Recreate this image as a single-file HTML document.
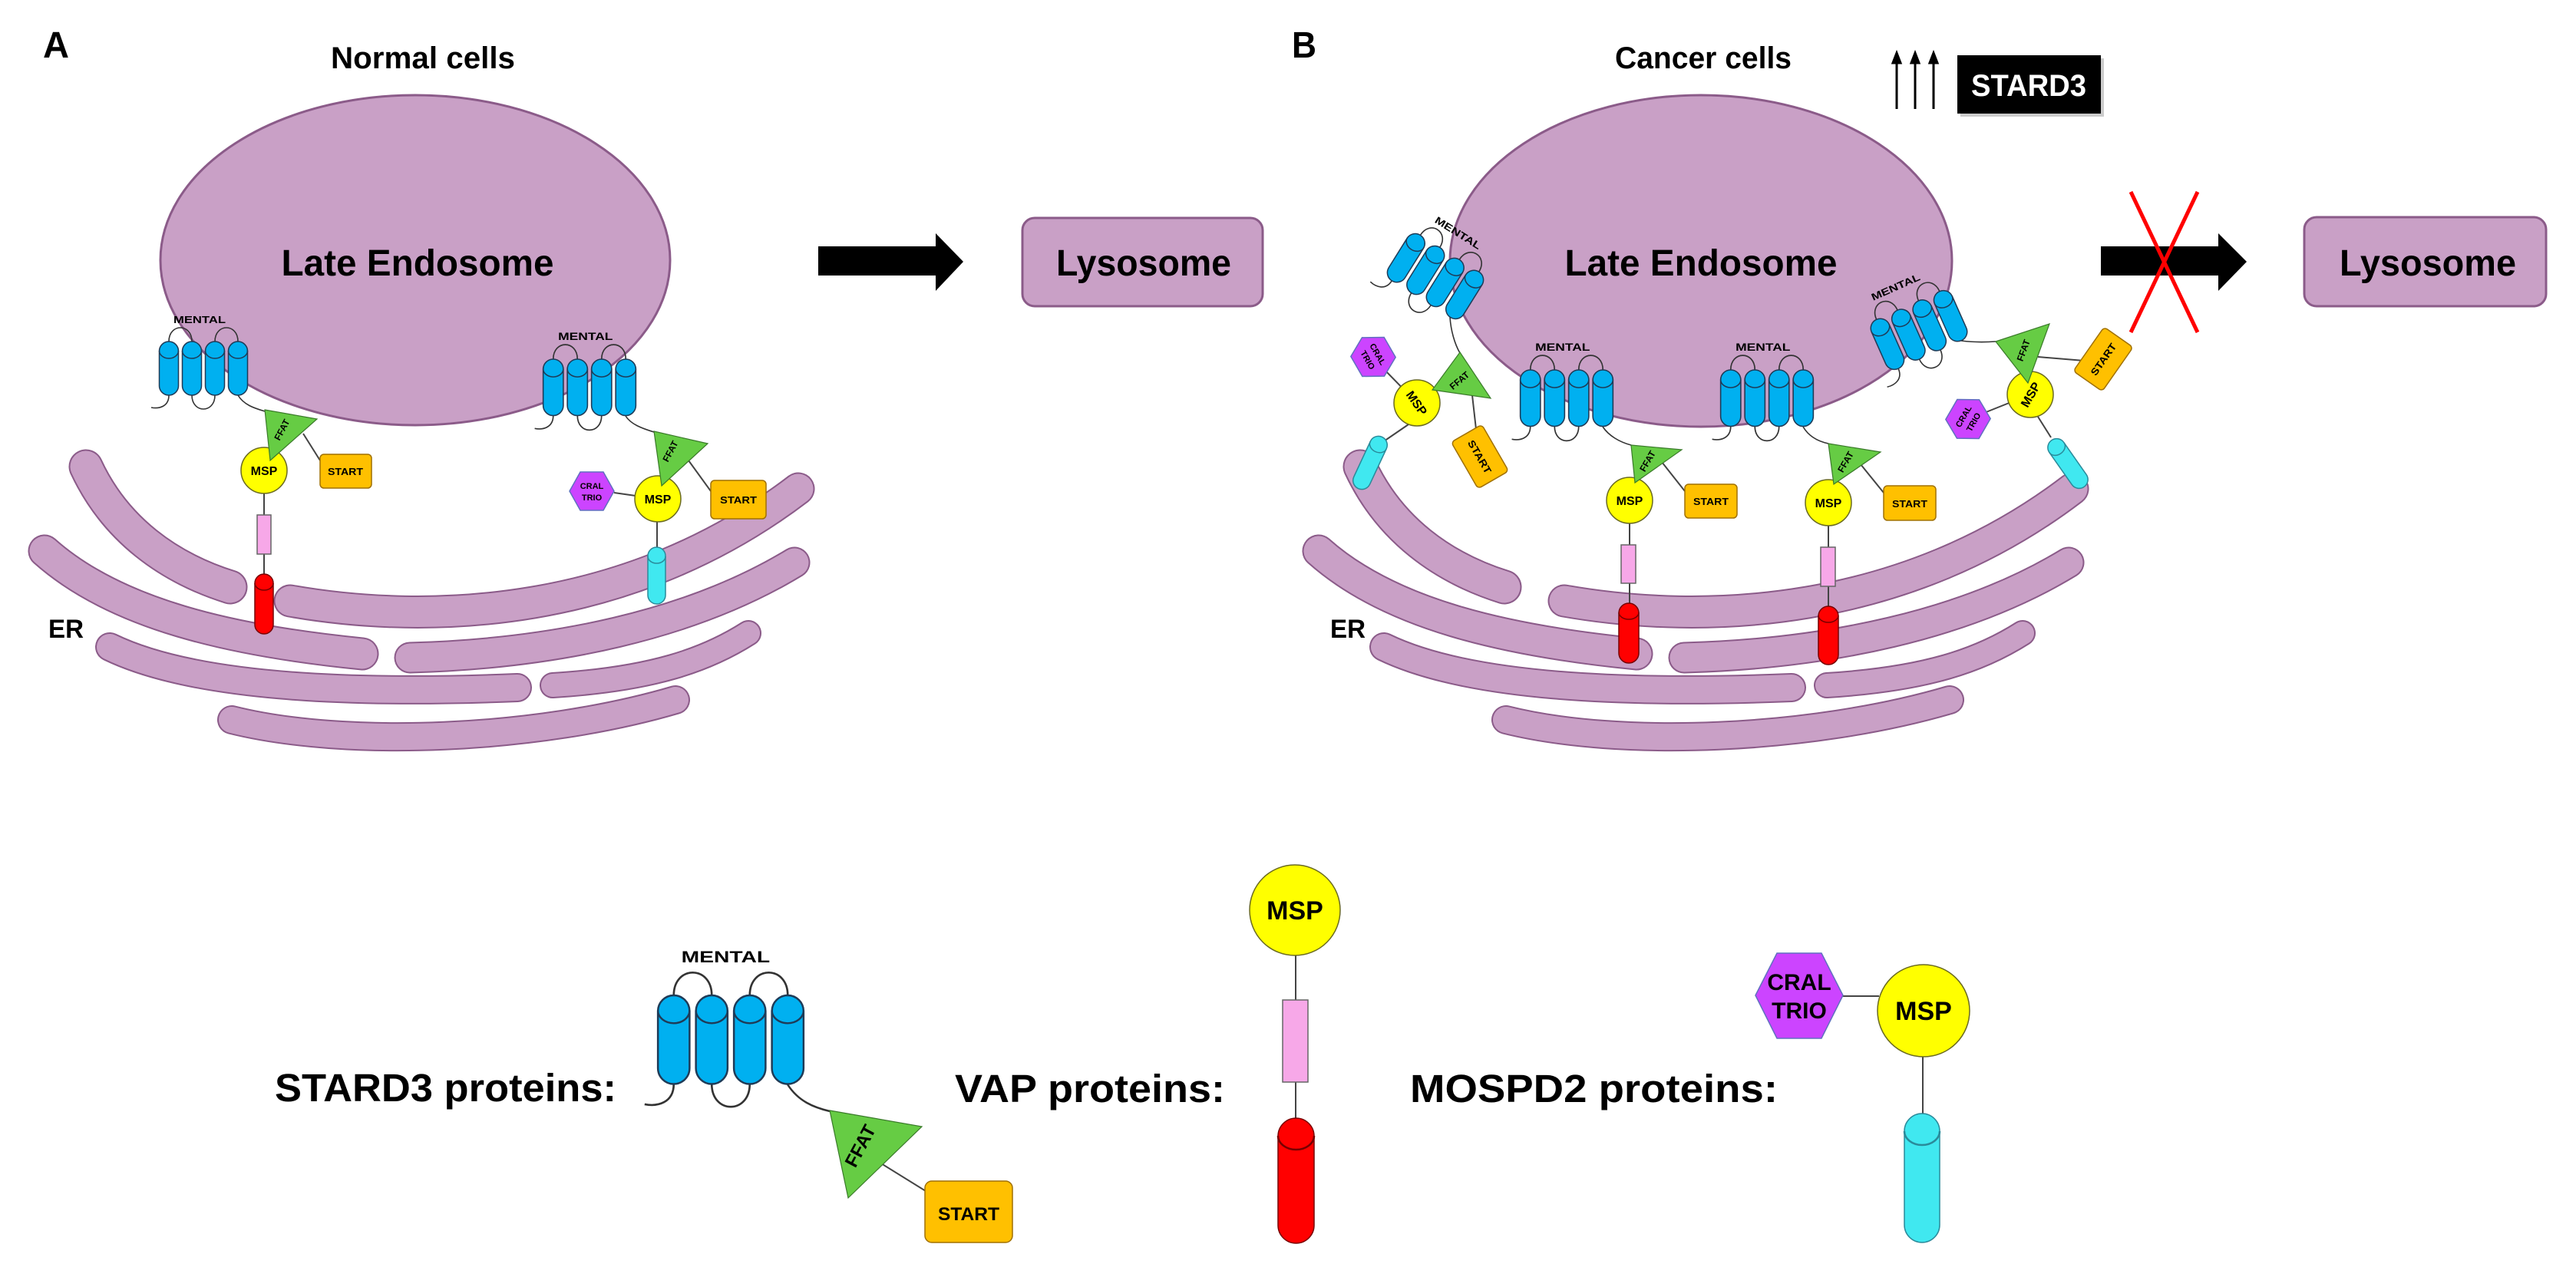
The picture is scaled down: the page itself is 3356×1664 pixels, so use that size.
<!DOCTYPE html>
<html><head><meta charset="utf-8"><style>
html,body{margin:0;padding:0;background:#fff}
svg{display:block}
text{font-family:"Liberation Sans",sans-serif;font-weight:bold;fill:#000}
.h{fill:#00b0f0;stroke:#1f3b57;stroke-width:1.5}
.hc{fill:none;stroke:#1f3b57;stroke-width:1.5}
.lp{fill:none;stroke:#333;stroke-width:1.6}
.ln{stroke:#444;stroke-width:2;fill:none}
.ml{font-size:13px;text-anchor:middle}
.ff{fill:#66cc44;stroke:#3a7a2a;stroke-width:1.2}
.msp{fill:#ffff00;stroke:#6a6a20;stroke-width:1.5}
.st{fill:#ffc000;stroke:#a07000;stroke-width:1.5}
.cr{fill:#cc44ff;stroke:#6070c0;stroke-width:1.5}
.pk{fill:#f7a8e8;stroke:#666;stroke-width:1.5}
.rd{fill:#ff0000;stroke:#700;stroke-width:1.5}
.cy{fill:#40e8f0;stroke:#2a8a9a;stroke-width:1.5}
.c{text-anchor:middle}
</style></head><body>
<svg width="3356" height="1664" viewBox="0 0 3356 1664" xmlns="http://www.w3.org/2000/svg">
<!-- ER A -->
<g fill="none" stroke-linecap="round">
 <g stroke="#8b5b89">
  <path d="M112,608 C150,690 220,740 300,765" stroke-width="45"/>
  <path d="M378,783 C560,815 820,805 1040,637" stroke-width="43"/>
  <path d="M58,718 C150,800 300,835 472,852" stroke-width="43"/>
  <path d="M534,857 C720,852 900,815 1035,733" stroke-width="41"/>
  <path d="M143,843 C250,895 450,905 674,896" stroke-width="38"/>
  <path d="M720,893 C850,885 920,860 975,825" stroke-width="34"/>
  <path d="M302,938 C450,975 700,965 880,912" stroke-width="38"/>
 </g>
 <g stroke="#c9a0c6">
  <path d="M112,608 C150,690 220,740 300,765" stroke-width="41"/>
  <path d="M378,783 C560,815 820,805 1040,637" stroke-width="39"/>
  <path d="M58,718 C150,800 300,835 472,852" stroke-width="39"/>
  <path d="M534,857 C720,852 900,815 1035,733" stroke-width="37"/>
  <path d="M143,843 C250,895 450,905 674,896" stroke-width="34"/>
  <path d="M720,893 C850,885 920,860 975,825" stroke-width="30"/>
  <path d="M302,938 C450,975 700,965 880,912" stroke-width="34"/>
 </g>
</g>
<!-- ER B -->
<g transform="translate(1660,0)" fill="none" stroke-linecap="round">
 <g stroke="#8b5b89">
  <path d="M112,608 C150,690 220,740 300,765" stroke-width="45"/>
  <path d="M378,783 C560,815 820,805 1040,637" stroke-width="43"/>
  <path d="M58,718 C150,800 300,835 472,852" stroke-width="43"/>
  <path d="M534,857 C720,852 900,815 1035,733" stroke-width="41"/>
  <path d="M143,843 C250,895 450,905 674,896" stroke-width="38"/>
  <path d="M720,893 C850,885 920,860 975,825" stroke-width="34"/>
  <path d="M302,938 C450,975 700,965 880,912" stroke-width="38"/>
 </g>
 <g stroke="#c9a0c6">
  <path d="M112,608 C150,690 220,740 300,765" stroke-width="41"/>
  <path d="M378,783 C560,815 820,805 1040,637" stroke-width="39"/>
  <path d="M58,718 C150,800 300,835 472,852" stroke-width="39"/>
  <path d="M534,857 C720,852 900,815 1035,733" stroke-width="37"/>
  <path d="M143,843 C250,895 450,905 674,896" stroke-width="34"/>
  <path d="M720,893 C850,885 920,860 975,825" stroke-width="30"/>
  <path d="M302,938 C450,975 700,965 880,912" stroke-width="34"/>
 </g>
</g>

<!-- Endosomes -->
<ellipse cx="541" cy="339" rx="332" ry="215" fill="#c9a0c6" stroke="#8b5b89" stroke-width="3"/>
<ellipse cx="2216" cy="340" rx="327" ry="216" fill="#c9a0c6" stroke="#8b5b89" stroke-width="3"/>
<text x="544" y="359" font-size="48" class="c" textLength="355" lengthAdjust="spacingAndGlyphs">Late Endosome</text>
<text x="2216" y="359" font-size="48" class="c" textLength="355" lengthAdjust="spacingAndGlyphs">Late Endosome</text>

<!-- titles -->
<text x="56" y="75" font-size="48" textLength="34" lengthAdjust="spacingAndGlyphs">A</text>
<text x="1683" y="75" font-size="48" textLength="32" lengthAdjust="spacingAndGlyphs">B</text>
<text x="551" y="89" font-size="40" class="c" textLength="240" lengthAdjust="spacingAndGlyphs">Normal cells</text>
<text x="2219" y="89" font-size="40" class="c" textLength="230" lengthAdjust="spacingAndGlyphs">Cancer cells</text>
<g stroke="#000" stroke-width="3" fill="#000">
 <line x1="2471" y1="142" x2="2471" y2="80"/><polygon points="2466,82 2476,82 2471,69"/>
 <line x1="2495" y1="142" x2="2495" y2="80"/><polygon points="2490,82 2500,82 2495,69"/>
 <line x1="2519" y1="142" x2="2519" y2="80"/><polygon points="2514,82 2524,82 2519,69"/>
</g>
<rect x="2554" y="76" width="187" height="76" fill="#999" opacity="0.5"/>
<rect x="2550" y="72" width="187" height="76" fill="#000"/>
<text x="2643" y="125" font-size="40" class="c" style="fill:#fff" textLength="150" lengthAdjust="spacingAndGlyphs">STARD3</text>

<!-- arrows & lysosomes -->
<polygon points="1066,321 1219,321 1219,304 1255,341 1219,379 1219,359 1066,359" fill="#000"/>
<polygon points="2737,321 2890,321 2890,304 2927,341 2890,379 2890,359 2737,359" fill="#000"/>
<g stroke="#ff0000" stroke-width="5"><line x1="2776" y1="250" x2="2863" y2="433"/><line x1="2863" y1="250" x2="2776" y2="433"/></g>
<rect x="1332" y="284" width="313" height="115" rx="16" fill="#c9a0c6" stroke="#8b5b89" stroke-width="3"/>
<rect x="3002" y="283" width="315" height="116" rx="16" fill="#c9a0c6" stroke="#8b5b89" stroke-width="3"/>
<text x="1490" y="359" font-size="48" class="c" textLength="228" lengthAdjust="spacingAndGlyphs">Lysosome</text>
<text x="3163" y="359" font-size="48" class="c" textLength="230" lengthAdjust="spacingAndGlyphs">Lysosome</text>
<text x="63" y="831" font-size="34" textLength="46" lengthAdjust="spacingAndGlyphs">ER</text>
<text x="1733" y="831" font-size="34" textLength="46" lengthAdjust="spacingAndGlyphs">ER</text>

<!-- ===== A left group ===== -->
<path class="lp" d="M310,515 C318,528 332,532 345,536"/>
<g transform="translate(265,445)">
 <path class="lp" d="M-45,0 C-45,-24 -15,-24 -15,0 M15,0 C15,-24 45,-24 45,0 M-15,70 C-15,94 15,94 15,70 M-45,70 C-45,85 -58,88 -68,86"/>
 <rect class="h" x="-57.5" y="0" width="25" height="70" rx="12.5"/><rect class="h" x="-27.5" y="0" width="25" height="70" rx="12.5"/><rect class="h" x="2.5" y="0" width="25" height="70" rx="12.5"/><rect class="h" x="32.5" y="0" width="25" height="70" rx="12.5"/>
 <path class="hc" d="M-57.5,12 a12.5,10 0 0 0 25,0 M-27.5,12 a12.5,10 0 0 0 25,0 M2.5,12 a12.5,10 0 0 0 25,0 M32.5,12 a12.5,10 0 0 0 25,0"/>
 <text x="-5" y="-24" class="ml" textLength="68" lengthAdjust="spacingAndGlyphs">MENTAL</text>
</g>
<line class="ln" x1="395" y1="565" x2="417" y2="600"/>
<line class="ln" x1="344" y1="640" x2="344" y2="748"/>
<rect class="st" x="417" y="592" width="67" height="44" rx="5"/>
<text x="450" y="619" font-size="13" class="c" textLength="46" lengthAdjust="spacingAndGlyphs">START</text>
<circle class="msp" cx="344" cy="613" r="30"/>
<text x="344" y="619" font-size="16" class="c">MSP</text>
<polygon class="ff" points="345,534 413,546 352,600"/>
<text transform="translate(371,562) rotate(-62)" font-size="12" class="c">FFAT</text>
<rect class="pk" x="335" y="671" width="18" height="51"/>
<rect class="rd" x="332" y="748" width="24" height="78" rx="12"/>
<path class="hc" style="stroke:#700" d="M332,760 a12,9 0 0 0 24,0"/>

<!-- ===== A right group ===== -->
<path class="lp" d="M815,542 C822,553 836,558 852,563"/>
<g transform="translate(768,468) scale(1.05)">
 <path class="lp" d="M-45,0 C-45,-24 -15,-24 -15,0 M15,0 C15,-24 45,-24 45,0 M-15,70 C-15,94 15,94 15,70 M-45,70 C-45,85 -58,88 -68,86"/>
 <rect class="h" x="-57.5" y="0" width="25" height="70" rx="12.5"/><rect class="h" x="-27.5" y="0" width="25" height="70" rx="12.5"/><rect class="h" x="2.5" y="0" width="25" height="70" rx="12.5"/><rect class="h" x="32.5" y="0" width="25" height="70" rx="12.5"/>
 <path class="hc" d="M-57.5,12 a12.5,10 0 0 0 25,0 M-27.5,12 a12.5,10 0 0 0 25,0 M2.5,12 a12.5,10 0 0 0 25,0 M32.5,12 a12.5,10 0 0 0 25,0"/>
 <text x="-5" y="-24" class="ml" textLength="68" lengthAdjust="spacingAndGlyphs">MENTAL</text>
</g>
<line class="ln" x1="800" y1="642" x2="828" y2="646"/>
<line class="ln" x1="897" y1="600" x2="926" y2="640"/>
<line class="ln" x1="856" y1="680" x2="856" y2="713"/>
<polygon class="cr" points="756,615 786,615 800,640 786,665 756,665 742,640"/>
<text x="771" y="637" font-size="11" class="c">CRAL</text><text x="771" y="652" font-size="11" class="c">TRIO</text>
<rect class="st" x="926" y="626" width="72" height="50" rx="5"/>
<text x="962" y="656" font-size="13" class="c" textLength="48" lengthAdjust="spacingAndGlyphs">START</text>
<circle class="msp" cx="857" cy="650" r="30"/>
<text x="857" y="656" font-size="16" class="c">MSP</text>
<polygon class="ff" points="852,562 922,578 862,633"/>
<text transform="translate(877,590) rotate(-62)" font-size="12" class="c">FFAT</text>
<rect class="cy" x="844" y="713" width="23" height="74" rx="11.5"/>
<path class="hc" style="stroke:#2a8a9a" d="M844,725 a11.5,9 0 0 0 23,0"/>

<!-- ===== B mid group 2 ===== -->
<path class="lp" d="M2088,556 C2096,568 2110,576 2125,580"/>
<g transform="translate(2041,482) scale(1.05)">
 <path class="lp" d="M-45,0 C-45,-24 -15,-24 -15,0 M15,0 C15,-24 45,-24 45,0 M-15,70 C-15,94 15,94 15,70 M-45,70 C-45,85 -58,88 -68,86"/>
 <rect class="h" x="-57.5" y="0" width="25" height="70" rx="12.5"/><rect class="h" x="-27.5" y="0" width="25" height="70" rx="12.5"/><rect class="h" x="2.5" y="0" width="25" height="70" rx="12.5"/><rect class="h" x="32.5" y="0" width="25" height="70" rx="12.5"/>
 <path class="hc" d="M-57.5,12 a12.5,10 0 0 0 25,0 M-27.5,12 a12.5,10 0 0 0 25,0 M2.5,12 a12.5,10 0 0 0 25,0 M32.5,12 a12.5,10 0 0 0 25,0"/>
 <text x="-5" y="-24" class="ml" textLength="68" lengthAdjust="spacingAndGlyphs">MENTAL</text>
</g>
<line class="ln" x1="2165" y1="602" x2="2195" y2="640"/>
<line class="ln" x1="2123" y1="680" x2="2123" y2="786"/>
<rect class="st" x="2195" y="631" width="68" height="44" rx="5"/>
<text x="2229" y="658" font-size="13" class="c" textLength="46" lengthAdjust="spacingAndGlyphs">START</text>
<circle class="msp" cx="2123" cy="652" r="30"/>
<text x="2123" y="658" font-size="16" class="c">MSP</text>
<polygon class="ff" points="2125,580 2191,586 2130,629"/>
<text transform="translate(2150,603) rotate(-60)" font-size="12" class="c">FFAT</text>
<rect class="pk" x="2112" y="710" width="19" height="50"/>
<rect class="rd" x="2109" y="786" width="26" height="78" rx="13"/>
<path class="hc" style="stroke:#700" d="M2109,798 a13,9 0 0 0 26,0"/>

<!-- ===== B mid group 3 ===== -->
<path class="lp" d="M2349,556 C2356,568 2368,575 2382,578"/>
<g transform="translate(2302,482) scale(1.05)">
 <path class="lp" d="M-45,0 C-45,-24 -15,-24 -15,0 M15,0 C15,-24 45,-24 45,0 M-15,70 C-15,94 15,94 15,70 M-45,70 C-45,85 -58,88 -68,86"/>
 <rect class="h" x="-57.5" y="0" width="25" height="70" rx="12.5"/><rect class="h" x="-27.5" y="0" width="25" height="70" rx="12.5"/><rect class="h" x="2.5" y="0" width="25" height="70" rx="12.5"/><rect class="h" x="32.5" y="0" width="25" height="70" rx="12.5"/>
 <path class="hc" d="M-57.5,12 a12.5,10 0 0 0 25,0 M-27.5,12 a12.5,10 0 0 0 25,0 M2.5,12 a12.5,10 0 0 0 25,0 M32.5,12 a12.5,10 0 0 0 25,0"/>
 <text x="-5" y="-24" class="ml" textLength="68" lengthAdjust="spacingAndGlyphs">MENTAL</text>
</g>
<line class="ln" x1="2424" y1="605" x2="2454" y2="642"/>
<line class="ln" x1="2382" y1="683" x2="2382" y2="790"/>
<rect class="st" x="2454" y="633" width="68" height="45" rx="5"/>
<text x="2488" y="661" font-size="13" class="c" textLength="46" lengthAdjust="spacingAndGlyphs">START</text>
<circle class="msp" cx="2382" cy="655" r="30"/>
<text x="2382" y="661" font-size="16" class="c">MSP</text>
<polygon class="ff" points="2382,578 2450,589 2389,631"/>
<text transform="translate(2408,604) rotate(-60)" font-size="12" class="c">FFAT</text>
<rect class="pk" x="2372" y="713" width="19" height="51"/>
<rect class="rd" x="2369" y="790" width="26" height="76" rx="13"/>
<path class="hc" style="stroke:#700" d="M2369,802 a13,9 0 0 0 26,0"/>

<!-- ===== B group 1 (left tilted) ===== -->
<path class="lp" d="M1889,413 C1890,430 1895,448 1902,460"/>
<g transform="translate(1870,360) rotate(32) translate(0,-35)">
 <path class="lp" d="M-45,0 C-45,-24 -15,-24 -15,0 M15,0 C15,-24 45,-24 45,0 M-15,70 C-15,94 15,94 15,70 M-45,70 C-45,85 -58,88 -68,86"/>
 <rect class="h" x="-57.5" y="0" width="25" height="70" rx="12.5"/><rect class="h" x="-27.5" y="0" width="25" height="70" rx="12.5"/><rect class="h" x="2.5" y="0" width="25" height="70" rx="12.5"/><rect class="h" x="32.5" y="0" width="25" height="70" rx="12.5"/>
 <path class="hc" d="M-57.5,12 a12.5,10 0 0 0 25,0 M-27.5,12 a12.5,10 0 0 0 25,0 M2.5,12 a12.5,10 0 0 0 25,0 M32.5,12 a12.5,10 0 0 0 25,0"/>
 <text x="-5" y="-24" class="ml" textLength="68" lengthAdjust="spacingAndGlyphs">MENTAL</text>
</g>
<line class="ln" x1="1846" y1="525" x2="1800" y2="478"/>
<line class="ln" x1="1835" y1="553" x2="1800" y2="577"/>
<line class="ln" x1="1918" y1="515" x2="1924" y2="568"/>
<g transform="translate(1789,465) rotate(60)"><polygon class="cr" points="-15,-25 15,-25 29,0 15,25 -15,25 -29,0"/><text x="0" y="-3" font-size="11" class="c">CRAL</text><text x="0" y="12" font-size="11" class="c">TRIO</text></g>
<g transform="translate(1928,595) rotate(60)"><rect class="st" x="-35" y="-23" width="70" height="46" rx="5"/><text x="0" y="5" font-size="13" class="c" textLength="48" lengthAdjust="spacingAndGlyphs">START</text></g>
<g transform="translate(1785,603) rotate(25)"><rect class="cy" x="-11.5" y="-37" width="23" height="74" rx="11.5"/><path class="hc" style="stroke:#2a8a9a" d="M-11.5,-25 a11.5,9 0 0 0 23,0"/></g>
<circle class="msp" cx="1846" cy="525" r="30"/>
<text transform="translate(1846,525) rotate(55)" y="6" font-size="16" class="c">MSP</text>
<polygon class="ff" points="1902,459 1942,519 1866,508"/>
<text transform="translate(1904,499) rotate(-40)" font-size="12" class="c">FFAT</text>

<!-- ===== B group 4 (right tilted) ===== -->
<path class="lp" d="M2555,444 C2570,446 2585,446 2600,445"/>
<g transform="translate(2500,430) rotate(-24) translate(0,-35)">
 <path class="lp" d="M-45,0 C-45,-24 -15,-24 -15,0 M15,0 C15,-24 45,-24 45,0 M-15,70 C-15,94 15,94 15,70 M-45,70 C-45,85 -58,88 -68,86"/>
 <rect class="h" x="-57.5" y="0" width="25" height="70" rx="12.5"/><rect class="h" x="-27.5" y="0" width="25" height="70" rx="12.5"/><rect class="h" x="2.5" y="0" width="25" height="70" rx="12.5"/><rect class="h" x="32.5" y="0" width="25" height="70" rx="12.5"/>
 <path class="hc" d="M-57.5,12 a12.5,10 0 0 0 25,0 M-27.5,12 a12.5,10 0 0 0 25,0 M2.5,12 a12.5,10 0 0 0 25,0 M32.5,12 a12.5,10 0 0 0 25,0"/>
 <text x="-5" y="-24" class="ml" textLength="68" lengthAdjust="spacingAndGlyphs">MENTAL</text>
</g>
<line class="ln" x1="2645" y1="514" x2="2580" y2="540"/>
<line class="ln" x1="2655" y1="543" x2="2672" y2="570"/>
<line class="ln" x1="2655" y1="465" x2="2715" y2="470"/>
<g transform="translate(2564,546) rotate(-60)"><polygon class="cr" points="-15,-25 15,-25 29,0 15,25 -15,25 -29,0"/><text x="0" y="-3" font-size="11" class="c">CRAL</text><text x="0" y="12" font-size="11" class="c">TRIO</text></g>
<g transform="translate(2740,468) rotate(-55)"><rect class="st" x="-35" y="-23" width="70" height="46" rx="5"/><text x="0" y="5" font-size="13" class="c" textLength="48" lengthAdjust="spacingAndGlyphs">START</text></g>
<g transform="translate(2694,604) rotate(-35)"><rect class="cy" x="-11.5" y="-37" width="23" height="74" rx="11.5"/><path class="hc" style="stroke:#2a8a9a" d="M-11.5,-25 a11.5,9 0 0 0 23,0"/></g>
<circle class="msp" cx="2645" cy="514" r="30"/>
<text transform="translate(2645,514) rotate(-60)" y="6" font-size="16" class="c">MSP</text>
<polygon class="ff" points="2600,445 2670,422 2642,499"/>
<text transform="translate(2640,458) rotate(-70)" font-size="12" class="c">FFAT</text>

<!-- ===== Legend ===== -->
<text x="358" y="1435" font-size="51" textLength="445" lengthAdjust="spacingAndGlyphs">STARD3 proteins:</text>
<path class="lp" style="stroke-width:2.5" d="M1026,1413 C1040,1435 1060,1443 1081,1448"/>
<g transform="translate(952,1297) scale(1.65)">
 <path class="lp" d="M-45,0 C-45,-24 -15,-24 -15,0 M15,0 C15,-24 45,-24 45,0 M-15,70 C-15,94 15,94 15,70 M-45,70 C-45,85 -58,88 -68,86"/>
 <rect class="h" x="-57.5" y="0" width="25" height="70" rx="12.5"/><rect class="h" x="-27.5" y="0" width="25" height="70" rx="12.5"/><rect class="h" x="2.5" y="0" width="25" height="70" rx="12.5"/><rect class="h" x="32.5" y="0" width="25" height="70" rx="12.5"/>
 <path class="hc" d="M-57.5,12 a12.5,10 0 0 0 25,0 M-27.5,12 a12.5,10 0 0 0 25,0 M2.5,12 a12.5,10 0 0 0 25,0 M32.5,12 a12.5,10 0 0 0 25,0"/>
 <text x="-4" y="-26" class="ml" textLength="70" lengthAdjust="spacingAndGlyphs">MENTAL</text>
</g>
<line class="ln" x1="1135" y1="1508" x2="1206" y2="1552"/>
<polygon class="ff" points="1081,1447 1201,1468 1105,1561"/>
<text transform="translate(1128,1497) rotate(-62)" font-size="24" class="c">FFAT</text>
<rect class="st" x="1205" y="1539" width="114" height="80" rx="9"/>
<text x="1262" y="1590" font-size="24" class="c" textLength="80" lengthAdjust="spacingAndGlyphs">START</text>

<text x="1244" y="1436" font-size="51" textLength="352" lengthAdjust="spacingAndGlyphs">VAP proteins:</text>
<line class="ln" x1="1688" y1="1244" x2="1688" y2="1460" stroke="#222" stroke-width="3"/>
<circle class="msp" cx="1687" cy="1186" r="59" stroke-width="2.5"/>
<text x="1687" y="1198" font-size="34" class="c">MSP</text>
<rect class="pk" x="1671" y="1303" width="33" height="107" stroke-width="2.5"/>
<rect class="rd" x="1665" y="1457" width="47" height="163" rx="23.5" stroke-width="2.5"/>
<path class="hc" style="stroke:#700;stroke-width:2.5" d="M1665,1480 a23.5,18 0 0 0 47,0"/>

<text x="1837" y="1436" font-size="51" textLength="479" lengthAdjust="spacingAndGlyphs">MOSPD2 proteins:</text>
<line class="ln" x1="2400" y1="1298" x2="2448" y2="1298" stroke="#222" stroke-width="3"/>
<line class="ln" x1="2505" y1="1376" x2="2505" y2="1455" stroke="#222" stroke-width="3"/>
<polygon class="cr" points="2315,1242 2373,1242 2401,1297 2373,1353 2315,1353 2287,1297" stroke-width="2.5"/>
<text x="2344" y="1290" font-size="30" class="c">CRAL</text>
<text x="2344" y="1327" font-size="30" class="c">TRIO</text>
<circle class="msp" cx="2506" cy="1317" r="60" stroke-width="2.5"/>
<text x="2506" y="1329" font-size="34" class="c">MSP</text>
<rect class="cy" x="2481" y="1451" width="46" height="168" rx="23" stroke-width="2.5"/>
<path class="hc" style="stroke:#2a8a9a;stroke-width:2.5" d="M2481,1474 a23,18 0 0 0 46,0"/>
</svg>
</body></html>
